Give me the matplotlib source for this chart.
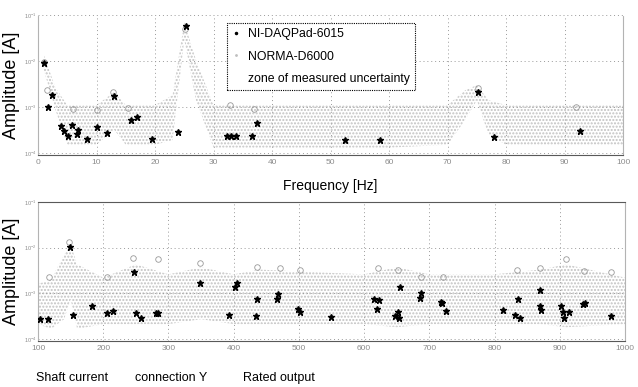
import numpy as np
import matplotlib
matplotlib.use('Agg')
from matplotlib import pyplot as plt
from matplotlib.patches import Patch
from matplotlib.lines import Line2D

plt.rcParams['font.family'] = ['Liberation Sans', 'DejaVu Sans']
plt.rcParams['hatch.linewidth'] = 1.0

# ---- top panel : 0 .. 100 Hz ----
f_ni_lo = [1, 1.7, 2.4, 3.9, 4.4, 5.1, 5.8, 6.7, 6.8, 8.4, 10.1, 11.8, 13.0,
           15.9, 16.9, 19.5, 23.9, 25.3, 32.3, 33.0, 33.8, 36.6, 37.4,
           52.5, 58.5, 75.2, 77.9, 92.6]
a_ni_lo = [9.1e-3, 1.0e-3, 1.8e-3, 3.9e-4, 3.0e-4, 2.3e-4, 4.1e-4, 2.6e-4,
           3.2e-4, 2.0e-4, 3.7e-4, 2.7e-4, 1.7e-3, 5.2e-4, 6.0e-4, 2.0e-4,
           2.9e-4, 5.8e-2, 2.3e-4, 2.3e-4, 2.3e-4, 2.3e-4, 4.5e-4,
           1.9e-4, 1.9e-4, 2.1e-3, 2.2e-4, 3.0e-4]

f_norma_lo = [1.0, 1.5, 6.0, 10.0, 12.8, 15.4, 25.1, 32.8, 37.0, 75.2, 92.0]
a_norma_lo = [9.5e-3, 2.3e-3, 9.0e-4, 8.5e-4, 2.1e-3, 9.5e-4, 5.0e-2, 1.1e-3,
              9.0e-4, 2.6e-3, 1.0e-3]

f_zone_lo = [1, 3, 5, 10, 13, 15, 20, 23, 25, 27, 30, 40, 50, 60, 70, 73,
             75, 77, 80, 90, 100]
zone_hi_lo = [1.35e-2, 2.6e-3, 1.1e-3, 1.1e-3, 2.1e-3, 1.1e-3, 1.1e-3, 1.8e-3,
              7.0e-2, 1.05e-2, 1.1e-3, 1.1e-3, 1.1e-3, 1.1e-3, 1.1e-3, 2.3e-3,
              3.0e-3, 1.4e-3, 1.1e-3, 1.1e-3, 1.1e-3]
zone_lo_lo = [6.3e-3, 8.5e-4, 1.5e-4, 1.5e-4, 3.2e-4, 1.5e-4, 1.5e-4, 1.9e-4,
              2.9e-2, 1.4e-3, 1.3e-4, 1.3e-4, 1.3e-4, 1.3e-4, 1.5e-4, 5.2e-4,
              1.4e-3, 2.5e-4, 1.5e-4, 1.5e-4, 1.5e-4]

# ---- bottom panel : 100 .. 1000 Hz ----
f_ni_hi = [103, 115, 149, 154, 183, 206, 215, 247, 250, 258, 281, 284, 348,
           393, 402, 405, 436, 434, 468, 466, 499, 502, 549, 615, 623, 620,
           655, 647, 652, 653, 686, 687, 718, 719, 725, 813, 831, 836, 839,
           870, 870, 871, 902, 905, 906, 914, 935, 939, 978]
a_ni_hi = [2.7e-4, 2.7e-4, 1.05e-2, 3.3e-4, 5.2e-4, 3.7e-4, 4.1e-4, 2.9e-3,
           3.7e-4, 2.9e-4, 3.7e-4, 3.7e-4, 1.65e-3, 3.3e-4, 1.35e-3, 1.65e-3,
           7.4e-4, 3.2e-4, 9.6e-4, 7.4e-4, 4.5e-4, 3.9e-4, 3.0e-4, 7.4e-4,
           7.1e-4, 4.5e-4, 1.35e-3, 3.2e-4, 3.9e-4, 2.9e-4, 7.8e-4, 1.0e-3,
           6.3e-4, 6.0e-4, 4.1e-4, 4.3e-4, 3.3e-4, 7.4e-4, 2.9e-4, 1.17e-3,
           5.2e-4, 4.3e-4, 5.2e-4, 3.9e-4, 2.9e-4, 3.9e-4, 5.7e-4, 6.0e-4,
           3.2e-4]

f_norma_hi = [148, 117, 206, 246, 284, 348, 436, 471, 502, 621, 652, 687,
              721, 834, 870, 909, 937, 978]
a_norma_hi = [1.35e-2, 2.3e-3, 2.3e-3, 6.0e-3, 5.5e-3, 4.7e-3, 3.7e-3, 3.5e-3,
              3.3e-3, 3.5e-3, 3.3e-3, 2.3e-3, 2.3e-3, 3.3e-3, 3.5e-3, 5.5e-3,
              3.0e-3, 2.9e-3]

f_zone_hi = [100, 120, 140, 150, 160, 200, 250, 300, 350, 400, 440, 500, 600,
             650, 700, 800, 870, 910, 1000]
zone_hi_hi = [1.6e-3, 2.0e-3, 7.0e-3, 1.17e-2, 4.3e-3, 2.2e-3, 4.3e-3, 2.6e-3,
              3.7e-3, 2.6e-3, 3.3e-3, 3.0e-3, 2.6e-3, 3.7e-3, 2.6e-3, 2.6e-3,
              3.3e-3, 4.3e-3, 2.2e-3]
zone_lo_hi = [2.1e-4, 1.65e-4, 2.7e-4, 7.4e-4, 1.65e-4, 2.1e-4, 2.1e-4,
              2.1e-4, 2.7e-4, 2.1e-4, 2.1e-4, 2.1e-4, 2.1e-4, 1.8e-4, 2.1e-4,
              2.1e-4, 2.1e-4, 1.8e-4, 2.1e-4]

xticks_lo = np.arange(0, 101, 10)
xticks_hi = np.arange(100, 1001, 100)
yticks = [1e-4, 1e-3, 1e-2, 1e-1]

fig = plt.figure(figsize=(6.38, 3.87), dpi=100)
ax1 = fig.add_axes([0.0596, 0.5995, 0.917, 0.3615])
ax2 = fig.add_axes([0.0596, 0.119, 0.920, 0.359])


def draw(ax, fz, zhi, zlo, fn, an, fd, ad, xlim, xticks):
    ax.fill_between(fz, zlo, zhi, facecolor='none', edgecolor='0.76',
                    hatch='.....', linewidth=0, zorder=1)
    ax.plot(fn, an, linestyle='none', marker='o', ms=4, mfc='none',
            mec='0.6', mew=0.6, zorder=2)
    ax.plot(fd, ad, linestyle='none', marker='*', ms=5, color='black',
            zorder=3)
    ax.set_yscale('log')
    ax.set_ylim(0.9e-4, 1e-1)
    ax.set_xlim(xlim)
    ax.set_xticks(xticks)
    ax.set_yticks(yticks)
    ax.minorticks_off()
    ax.grid(True, color='0.6', linestyle=(0, (1, 3)), linewidth=0.7)
    ax.tick_params(length=0, labelsize=6, labelcolor='0.55', pad=3)
    ax.tick_params(axis='y', labelsize=4, pad=1)
    for s in ax.spines.values():
        s.set_linestyle((0, (1, 1)))
        s.set_color('0.35')
        s.set_linewidth(0.8)
    ax.spines['left'].set_color('0.7')
    ax.spines['right'].set_color('0.7')
    ax.set_ylabel('Amplitude [A]', fontsize=13)
    ax.yaxis.set_label_coords(-0.03, 0.5)


draw(ax1, f_zone_lo, zone_hi_lo, zone_lo_lo, f_norma_lo, a_norma_lo,
     f_ni_lo, a_ni_lo, (0, 100), xticks_lo)
draw(ax2, f_zone_hi, zone_hi_hi, zone_lo_hi, f_norma_hi, a_norma_hi,
     f_ni_hi, a_ni_hi, (100, 1000), xticks_hi)
ax1.spines['top'].set_visible(False)
ax1.set_xlabel('Frequency [Hz]', fontsize=10, labelpad=9)

handles = [Line2D([], [], linestyle='none', marker='.', ms=3, color='black'),
           Line2D([], [], linestyle='none', marker='.', ms=2, color='0.75'),
           Patch(facecolor='none', edgecolor='none')]
labels = ['NI-DAQPad-6015', 'NORMA-D6000', 'zone of measured uncertainty']
leg = ax1.legend(handles, labels, loc='upper left',
                 bbox_to_anchor=(0.323, 0.94), borderaxespad=0,
                 fontsize=8.8, fancybox=False, framealpha=1,
                 edgecolor='black', handlelength=0.6, handletextpad=0.7,
                 labelspacing=0.85, borderpad=0.4)
leg.get_frame().set_linewidth(0.8)
leg.get_frame().set_linestyle((0, (1, 1)))

fig.text(0.056, 0.023, 'Shaft current', fontsize=9, va='center')
fig.text(0.212, 0.023, 'connection Y', fontsize=9, va='center')
fig.text(0.381, 0.023, 'Rated output', fontsize=9, va='center')

fig.savefig('out.png', dpi=100)
